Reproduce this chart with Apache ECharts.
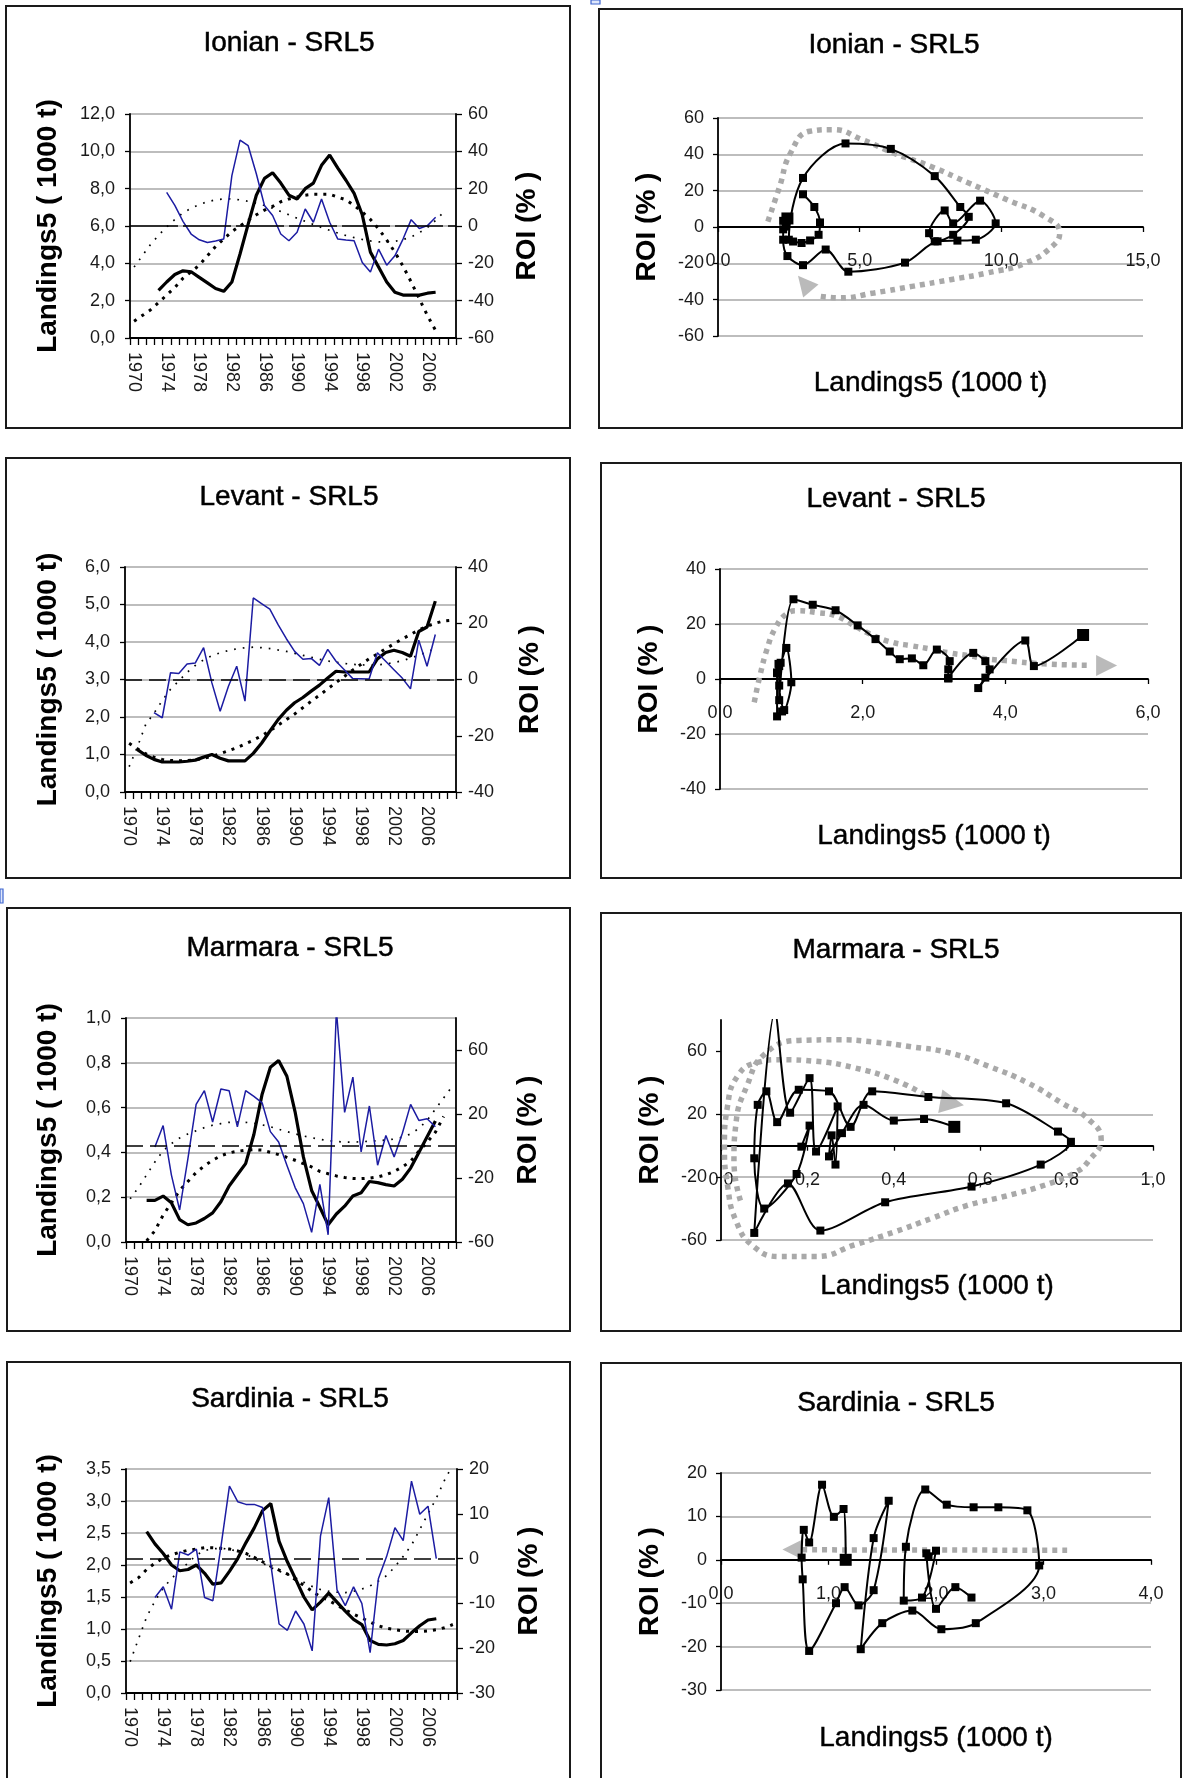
<!DOCTYPE html>
<html>
<head>
<meta charset="utf-8">
<title>SRL5 – landings and ROI</title>
<script src="https://cdn.jsdelivr.net/npm/echarts@6/dist/echarts.min.js"></script>
<style>
  html, body { margin: 0; padding: 0; background: #fff; }
  #chart { width: 1184px; height: 1778px; }
</style>
</head>
<body>
<div id="chart"></div>
<script>
// ---------------------------------------------------------------
// Data: one entry per year, 1970..2009 (null = no value)
// ---------------------------------------------------------------
const years = ['1970','1971','1972','1973','1974','1975','1976','1977','1978','1979',
               '1980','1981','1982','1983','1984','1985','1986','1987','1988','1989',
               '1990','1991','1992','1993','1994','1995','1996','1997','1998','1999',
               '2000','2001','2002','2003','2004','2005','2006','2007','2008','2009'];

// Ionian
const ionianLandings = [null,null,null,2.55,3.0,3.4,3.6,3.55,3.25,2.95,
  2.65,2.5,3.0,4.5,6.1,7.65,8.55,8.85,8.3,7.65,
  7.45,8.0,8.3,9.25,9.8,9.1,8.45,7.75,6.6,4.6,
  3.8,3.0,2.45,2.3,2.3,2.3,2.4,2.45,null,null];
const ionianLandingsTrend = [0.9,1.2,1.5,1.9,2.3,2.7,3.2,3.55,3.9,4.4,
  4.9,5.3,5.7,6.0,6.3,6.6,6.85,7.05,7.3,7.45,
  7.55,7.65,7.7,7.7,7.7,7.55,7.4,7.1,6.75,6.35,
  5.85,5.25,4.6,3.85,3.0,2.1,1.2,0.4,null,null];
const ionianRoi = [null,null,null,null,18,11,2.5,-4.3,-7.4,-8.8,
  -8,-7,27,46,43,28,11,5.6,-4.3,-7.9,
  -3.4,9.1,2,14.5,2,-7,-7.5,-7.9,-19.6,-24.6,
  -12.4,-21,-16,-7,3.4,-1.3,0.2,4.7,null,null];
const ionianRoiTrend = [-22,-16,-10,-5,-0.5,3.5,7,9.5,11.5,13,
  14,14.5,14.5,14,13.2,12.2,11,9.5,7.8,6,
  4.2,2.5,0.8,-0.8,-2.3,-3.8,-5.1,-6.2,-7.2,-8,
  -8.5,-8.6,-8.2,-7.3,-5.8,-3.6,-0.8,3,7.5,null];
const ionianLandingsAxis = [0, 12, 2];
const ionianRoiAxis = [-60, 60, 20];
const ionianPhaseXAxis = [0, 15, 5];
const ionianArrow = [[1.76,3],[2.17,22],[2.57,41],[3.24,52.7],[4.04,53.6],[5.1,48],[6.2,40.7],
  [7.5,33.4],[8.85,24.2],[10.2,15],[11.5,5.9],[12.06,-3.3],[11.8,-10.6],[10.86,-19.8],
  [9.5,-25.3],[8.2,-29],[6.85,-32.7],[5.5,-36.3],[4.3,-39],[3.55,-38]];
const ionianArrowHead = [3.05, -31];

// Levant
const levantLandings = [null,1.13,0.98,0.87,0.8,0.8,0.8,0.82,0.85,0.93,
  1.0,0.9,0.83,0.83,0.83,1.03,1.3,1.62,1.93,2.18,
  2.38,2.52,2.69,2.85,3.04,3.22,3.2,3.2,3.2,3.2,
  3.55,3.72,3.78,3.72,3.62,4.28,4.4,5.09,null,null];
const levantLandingsTrend = [1.3,1.15,1.02,0.93,0.87,0.84,0.83,0.84,0.86,0.9,
  0.95,1.02,1.1,1.18,1.28,1.38,1.5,1.63,1.78,1.93,
  2.08,2.25,2.42,2.58,2.75,2.92,3.08,3.25,3.4,3.55,
  3.68,3.82,3.95,4.08,4.2,4.32,4.42,4.5,4.56,4.58];
const levantRoi = [null,null,null,-11.8,-13.6,2.4,2.1,5.5,5.9,11.3,
  -1.2,-11.3,-2.4,4.7,-7.7,29,27,25,19.5,14.5,
  10,7.2,7.5,5,10.7,6.5,3.5,0.4,0.3,0.2,
  9.5,6.5,3.5,0.5,-3.3,14,4.7,16,null,null];
const levantRoiTrend = [-31,-24,-16,-12,-7.5,-3.5,-0.5,2.5,5,7,
  8.5,9.5,10.3,10.9,11.3,11.5,11.3,11,10.5,10,
  9.3,8.6,7.9,7.2,6.6,6.1,5.7,5.4,5.2,5.1,
  5.2,5.5,6,6.7,7.6,8.6,9.8,11,null,null];
const levantLandingsAxis = [0, 6, 1];
const levantRoiAxis = [-40, 40, 20];
const levantPhaseXAxis = [0, 6, 2];
const levantArrow = [[0.48,-8.5],[0.56,1.2],[0.66,10.9],[0.77,18.2],[0.93,23.6],[1.09,24.8],
  [1.35,24.2],[1.62,23],[1.88,19.4],[2.15,15.8],[2.42,13.3],[2.68,12.1],[2.95,10.9],
  [3.21,9.5],[3.48,8.5],[3.74,7.3],[4.0,6.7],[4.54,5.5],[5.2,5.0]];
const levantArrowHead = [5.42, 4.9];

// Marmara
const marmaraLandings = [null,null,0.186,0.186,0.205,0.175,0.10,0.077,0.085,0.105,
  0.13,0.18,0.25,0.30,0.35,0.48,0.66,0.78,0.81,0.74,
  0.58,0.38,0.23,0.155,0.077,0.125,0.16,0.205,0.22,0.27,
  0.265,0.256,0.25,0.28,0.33,0.40,0.47,0.54,null,null];
const marmaraLandingsTrend = [null,null,0.005,0.05,0.12,0.175,0.23,0.27,0.31,0.34,
  0.365,0.385,0.398,0.405,0.41,0.412,0.41,0.40,0.39,0.378,
  0.365,0.35,0.335,0.315,0.305,0.295,0.288,0.284,0.283,0.285,
  0.29,0.30,0.315,0.335,0.36,0.405,0.445,0.49,0.56,null];
const marmaraRoi = [null,null,null,-0.6,12.8,-18,-40,-8,26,34.6,
  15,35.6,34.6,12,34.6,31,27,9,2.5,-12,
  -26,-36,-54,-24,-55.5,85,21,43,-3.7,25,
  -12,6.6,-6.8,8,26,16,17,12,null,null];
const marmaraRoiTrend = [-33,-26,-18,-10,-3,1.5,5,7.5,9.5,11.5,
  13,14,14.8,15,14.8,14.2,13.2,12,10.5,9,
  7.6,6.3,5.2,4.2,3.4,2.8,2.5,2.4,2.6,3,
  3.3,3.7,4.3,5.5,7.5,11,16,23,30,37];
const marmaraLandingsAxis = [0, 1, 0.2];
const marmaraRoiAxis = [-60, 80, 40];
const marmaraRoiTicks = [-60, -20, 20, 60];
const marmaraPhaseXAxis = [0, 1, 0.2];
const marmaraArrow = [[0.045,-35],[0.03,-10],[0.035,15],[0.06,38],[0.1,58],[0.18,67],[0.27,67.4],
  [0.355,66],[0.44,63],[0.53,59],[0.62,50.5],[0.71,40],[0.79,27],[0.85,17],[0.88,4],
  [0.85,-10],[0.82,-17],[0.75,-25],[0.66,-32],[0.57,-38],[0.49,-46],[0.40,-55],[0.31,-63],
  [0.22,-70.5],[0.136,-70.5],[0.075,-64],[0.035,-48],[0.015,-25],[0.008,0],[0.015,25],
  [0.04,45],[0.085,53],[0.136,54.7],[0.22,53.7],[0.31,49.5],[0.40,42],[0.47,32.6]];
const marmaraArrowHead = [0.535, 27];

// Sardinia
const sardiniaLandings = [null,null,2.52,2.33,2.18,2.0,1.91,1.93,2.0,1.87,
  1.7,1.72,1.9,2.1,2.35,2.58,2.85,2.96,2.37,2.05,
  1.78,1.5,1.3,1.42,1.56,1.42,1.28,1.15,1.07,0.82,
  0.76,0.75,0.77,0.82,0.94,1.05,1.14,1.16,null,null];
const sardiniaLandingsTrend = [1.72,1.8,1.93,2.03,2.11,2.16,2.2,2.23,2.25,2.27,
  2.27,2.26,2.25,2.22,2.18,2.12,2.05,1.98,1.92,1.86,
  1.77,1.68,1.59,1.5,1.45,1.37,1.3,1.23,1.17,1.11,
  1.05,1.01,0.99,0.97,0.96,0.96,0.97,0.99,1.02,1.07];
const sardiniaRoi = [null,null,null,-8.7,-6.3,-11.3,1.5,0.8,2.1,-8.7,
  -9.4,3,16.2,12.7,12.1,12.1,11.4,-1.3,-14.6,-16,
  -11.7,-14.6,-20.6,5,13.6,-7,-10.5,-6.3,-10,-21,
  -4.5,0.5,6.9,4,17.3,9.9,11.7,0,null,null];
const sardiniaRoiTrend = [-23,-18,-13,-9.5,-6.5,-4.5,-2.5,-1,0.8,1.8,
  2.2,2.3,2.1,1.6,1,0,-1,-2,-2.8,-3.5,
  -4.3,-5.3,-6.2,-6.9,-7.3,-7.5,-7.6,-7.3,-6.8,-6.1,
  -5,-3.8,-1.8,0.5,3,6.5,10,13.5,17.5,21];
const sardiniaLandingsAxis = [0, 3.5, 0.5];
const sardiniaRoiAxis = [-30, 20, 10];
const sardiniaPhaseXAxis = [0, 4, 1];
const sardiniaArrow = [[3.22,2.2],[0.74,2.3]];
const sardiniaArrowHead = [0.66, 2.4];

// ---------------------------------------------------------------
// Layout and styling
// ---------------------------------------------------------------
const FONT = '"Liberation Sans", Arial, sans-serif';
const LABEL_COLOR = '#1a1a1a';
const comma1 = v => Number(v).toFixed(1).replace('.', ',');

const timePanels = [
  { title: 'Ionian - SRL5', titlePos: [289, 43], box: [6, 6, 564, 422],
    grid: [130, 114, 326, 224], landings: ionianLandings, landingsTrend: ionianLandingsTrend,
    roi: ionianRoi, roiTrend: ionianRoiTrend, left: ionianLandingsAxis, right: ionianRoiAxis,
    leftGap: 68, rightGap: 57, zeroDash: [48, 5] },
  { title: 'Levant - SRL5', titlePos: [289, 497], box: [6, 458, 564, 420],
    grid: [125, 567, 331, 225], landings: levantLandings, landingsTrend: levantLandingsTrend,
    roi: levantRoi, roiTrend: levantRoiTrend, left: levantLandingsAxis, right: levantRoiAxis,
    leftGap: 63, rightGap: 60, zeroDash: [17, 7] },
  { title: 'Marmara - SRL5', titlePos: [290, 948], box: [7, 908, 563, 423],
    grid: [126, 1018, 330, 224], landings: marmaraLandings, landingsTrend: marmaraLandingsTrend,
    roi: marmaraRoi, roiTrend: marmaraRoiTrend, left: marmaraLandingsAxis, right: marmaraRoiAxis,
    rightTicks: marmaraRoiTicks, leftGap: 64, rightGap: 58, zeroDash: [17, 7] },
  { title: 'Sardinia - SRL5', titlePos: [290, 1399], box: [7, 1362, 563, 500],
    grid: [126, 1469, 331, 224], landings: sardiniaLandings, landingsTrend: sardiniaLandingsTrend,
    roi: sardiniaRoi, roiTrend: sardiniaRoiTrend, left: sardiniaLandingsAxis, right: sardiniaRoiAxis,
    leftGap: 64, rightGap: 58, zeroDash: [17, 7] }
];

const phasePanels = [
  { title: 'Ionian - SRL5', titlePos: [894, 45], box: [599, 9, 583, 419],
    grid: [718, 118, 425, 218], landings: ionianLandings, roi: ionianRoi,
    x: ionianPhaseXAxis, y: ionianRoiAxis, xGap: 142,
    arrow: ionianArrow, head: ionianArrowHead, headRotate: 40, headSize: 20 },
  { title: 'Levant - SRL5', titlePos: [896, 499], box: [601, 463, 580, 415],
    grid: [720, 569, 428, 220], landings: levantLandings, roi: levantRoi,
    x: levantPhaseXAxis, y: levantRoiAxis, xGap: 143,
    arrow: levantArrow, head: levantArrowHead, headRotate: -90, headSize: 21 },
  { title: 'Marmara - SRL5', titlePos: [896, 950], box: [601, 913, 580, 418],
    grid: [721, 1020, 432, 220], landings: marmaraLandings, roi: marmaraRoi,
    x: marmaraPhaseXAxis, y: marmaraRoiAxis, yTicks: marmaraRoiTicks, xGap: 127,
    arrow: marmaraArrow, head: marmaraArrowHead, headRotate: -100, headSize: 24 },
  { title: 'Sardinia - SRL5', titlePos: [896, 1403], box: [601, 1363, 580, 500],
    grid: [721, 1473, 430, 217], landings: sardiniaLandings, roi: sardiniaRoi,
    x: sardiniaPhaseXAxis, y: sardiniaRoiAxis, xGap: 164,
    arrow: sardiniaArrow, head: sardiniaArrowHead, headRotate: 90, headSize: 19 }
];

const option = {
  animation: false,
  backgroundColor: '#fff',
  textStyle: { fontFamily: FONT },
  grid: [], xAxis: [], yAxis: [], series: [], graphic: []
};

const axisLineStyle = { color: '#000', width: 1.8 };
const tickStyle = { color: '#000', width: 1.3 };
const gridLineStyle = { color: '#bdbdbd', width: 2 };

function addFrame(p) {
  option.graphic.push({
    type: 'rect', silent: true, z: 0,
    shape: { x: p.box[0], y: p.box[1], width: p.box[2], height: p.box[3] },
    style: { fill: 'none', stroke: '#1a1a1a', lineWidth: 2 }
  });
  option.graphic.push({
    type: 'text', silent: true, x: p.titlePos[0], y: p.titlePos[1],
    style: { text: p.title, font: '28px ' + FONT, fill: '#000',
             stroke: '#000', lineWidth: 0.5,
             textAlign: 'center', textVerticalAlign: 'middle' }
  });
}

function valueAxisLabels(ticks, formatter) {
  const lab = { fontSize: 18, color: LABEL_COLOR, fontFamily: FONT };
  if (formatter) lab.formatter = formatter;
  if (ticks) lab.customValues = ticks;
  return lab;
}

function makeGrid(g) {
  return { left: g[0], top: g[1], width: g[2], height: g[3],
           containLabel: false, outerBoundsMode: 'none' };
}

function addTimePanel(p) {
  addFrame(p);
  const gi = option.grid.length;
  option.grid.push(makeGrid(p.grid));
  option.xAxis.push({
    type: 'category', gridIndex: gi, data: years, boundaryGap: true,
    axisLine: { show: true, onZero: false, lineStyle: axisLineStyle },
    axisTick: { show: true, interval: 0, length: 7, lineStyle: tickStyle },
    axisLabel: { interval: 3, rotate: -90, margin: 14, fontSize: 18, color: LABEL_COLOR, fontFamily: FONT },
    splitLine: { show: false }
  });
  const yl = option.yAxis.length;
  option.yAxis.push({
    type: 'value', gridIndex: gi, position: 'left',
    min: p.left[0], max: p.left[1], interval: p.left[2],
    axisLine: { show: true, onZero: false, lineStyle: axisLineStyle },
    axisTick: { show: true, length: 5, lineStyle: tickStyle },
    axisLabel: Object.assign(valueAxisLabels(null, comma1), { margin: 15 }),
    splitLine: { show: true, lineStyle: gridLineStyle },
    name: 'Landings5 ( 1000 t)', nameLocation: 'middle', nameRotate: 90, nameGap: p.leftGap,
    nameMoveOverlap: false,
    nameTextStyle: { fontSize: 28, fontWeight: 'bold', color: '#000', fontFamily: FONT }
  });
  const rightTick = { show: true, length: 6, lineStyle: tickStyle };
  if (p.rightTicks) rightTick.customValues = p.rightTicks;
  option.yAxis.push({
    type: 'value', gridIndex: gi, position: 'right',
    min: p.right[0], max: p.right[1], interval: p.right[2],
    axisLine: { show: true, onZero: false, lineStyle: axisLineStyle },
    axisTick: rightTick,
    axisLabel: Object.assign(valueAxisLabels(p.rightTicks, null), { margin: 12 }),
    splitLine: { show: false },
    name: 'ROI (% )', nameLocation: 'middle', nameRotate: 90, nameGap: p.rightGap,
    nameMoveOverlap: false,
    nameTextStyle: { fontSize: 28, fontWeight: 'bold', color: '#000', fontFamily: FONT }
  });

  option.series.push({
    type: 'line', xAxisIndex: gi, yAxisIndex: yl, data: p.landingsTrend,
    symbol: 'none', silent: true, z: 2,
    lineStyle: { color: '#000', width: 3, type: [3, 6] }
  });
  option.series.push({
    type: 'line', xAxisIndex: gi, yAxisIndex: yl + 1, data: p.roiTrend,
    symbol: 'none', silent: true, z: 2,
    lineStyle: { color: '#000', width: 1.7, type: [1.7, 7] }
  });
  option.series.push({
    type: 'line', xAxisIndex: gi, yAxisIndex: yl, data: p.landings,
    symbol: 'none', silent: true, z: 3,
    lineStyle: { color: '#000', width: 3.2 }
  });
  option.series.push({
    type: 'line', xAxisIndex: gi, yAxisIndex: yl + 1, data: p.roi,
    symbol: 'none', silent: true, z: 4,
    lineStyle: { color: '#1c1ca2', width: 1.5 },
    markLine: {
      silent: true, symbol: 'none', label: { show: false }, animation: false,
      lineStyle: { color: '#000', width: 1.6, type: p.zeroDash },
      data: [{ yAxis: 0 }]
    }
  });
}

function phasePairs(landings, roi) {
  const out = [];
  for (let i = 0; i < years.length; i++) {
    if (landings[i] != null && roi[i] != null) out.push([landings[i], roi[i]]);
  }
  return out;
}

function addPhasePanel(p) {
  addFrame(p);
  const gi = option.grid.length;
  option.grid.push(makeGrid(p.grid));
  // the x axis (line, ticks, labels) sits on ROI = 0
  const zeroShift = p.grid[3] * (0 - p.y[0]) / (p.y[1] - p.y[0]);
  option.xAxis.push({
    type: 'value', gridIndex: gi, min: p.x[0], max: p.x[1], interval: p.x[2],
    position: 'bottom', offset: -zeroShift,
    axisLine: { show: true, onZero: false, lineStyle: axisLineStyle },
    axisTick: { show: true, length: 5, lineStyle: tickStyle },
    axisLabel: Object.assign(valueAxisLabels(null, comma1), { margin: 25 }),
    splitLine: { show: false },
    name: 'Landings5 (1000 t)', nameLocation: 'middle', nameGap: p.xGap,
    nameMoveOverlap: false,
    nameTextStyle: { fontSize: 28, color: '#000', fontFamily: FONT,
                     textBorderColor: '#000', textBorderWidth: 0.4 }
  });
  const yi = option.yAxis.length;
  const yTick = { show: true, length: 5, lineStyle: tickStyle };
  if (p.yTicks) yTick.customValues = p.yTicks;
  option.yAxis.push({
    type: 'value', gridIndex: gi, min: p.y[0], max: p.y[1], interval: p.y[2],
    axisLine: { show: true, onZero: false, lineStyle: axisLineStyle },
    axisTick: yTick,
    axisLabel: Object.assign(valueAxisLabels(p.yTicks, null), { margin: 14 }),
    splitLine: { show: true, showMaxLine: !p.yTicks, lineStyle: gridLineStyle },
    name: 'ROI (% )', nameLocation: 'middle', nameRotate: 90, nameGap: 57,
    nameMoveOverlap: false,
    nameTextStyle: { fontSize: 28, fontWeight: 'bold', color: '#000', fontFamily: FONT }
  });

  // hand-drawn trajectory hint
  option.series.push({
    type: 'line', xAxisIndex: gi, yAxisIndex: yi, data: p.arrow,
    smooth: 0.5, symbol: 'none', silent: true, z: 1, clip: false,
    lineStyle: { color: '#a9a9a9', width: 5.5, type: [5, 5], cap: 'butt' }
  });
  option.series.push({
    type: 'scatter', xAxisIndex: gi, yAxisIndex: yi, data: [p.head],
    symbol: 'triangle', symbolSize: p.headSize, symbolRotate: p.headRotate,
    silent: true, z: 1, clip: false,
    itemStyle: { color: '#a9a9a9' }
  });

  const path = phasePairs(p.landings, p.roi);
  const last = path.length - 1;
  option.series.push({
    type: 'line', xAxisIndex: gi, yAxisIndex: yi, data: path,
    smooth: 0.3, showAllSymbol: true, silent: true, z: 3,
    symbol: 'rect',
    symbolSize: (v, params) => (params.dataIndex === last ? 12 : 8),
    itemStyle: { color: '#000' },
    lineStyle: { color: '#000', width: 2 }
  });
}

for (let i = 0; i < 4; i++) {
  addTimePanel(timePanels[i]);
  addPhasePanel(phasePanels[i]);
}

// small selection handles along the page edges
option.graphic.push({ type: 'rect', silent: true, shape: { x: 591, y: 0, width: 9, height: 4 },
  style: { fill: '#dfe7fb', stroke: '#3f66d0', lineWidth: 1.2 } });
option.graphic.push({ type: 'rect', silent: true, shape: { x: 0, y: 889, width: 3, height: 14 },
  style: { fill: '#dfe7fb', stroke: '#3f66d0', lineWidth: 1.2 } });

const chart = echarts.init(document.getElementById('chart'), null, { renderer: 'canvas' });
chart.setOption(option);
</script>
</body>
</html>
